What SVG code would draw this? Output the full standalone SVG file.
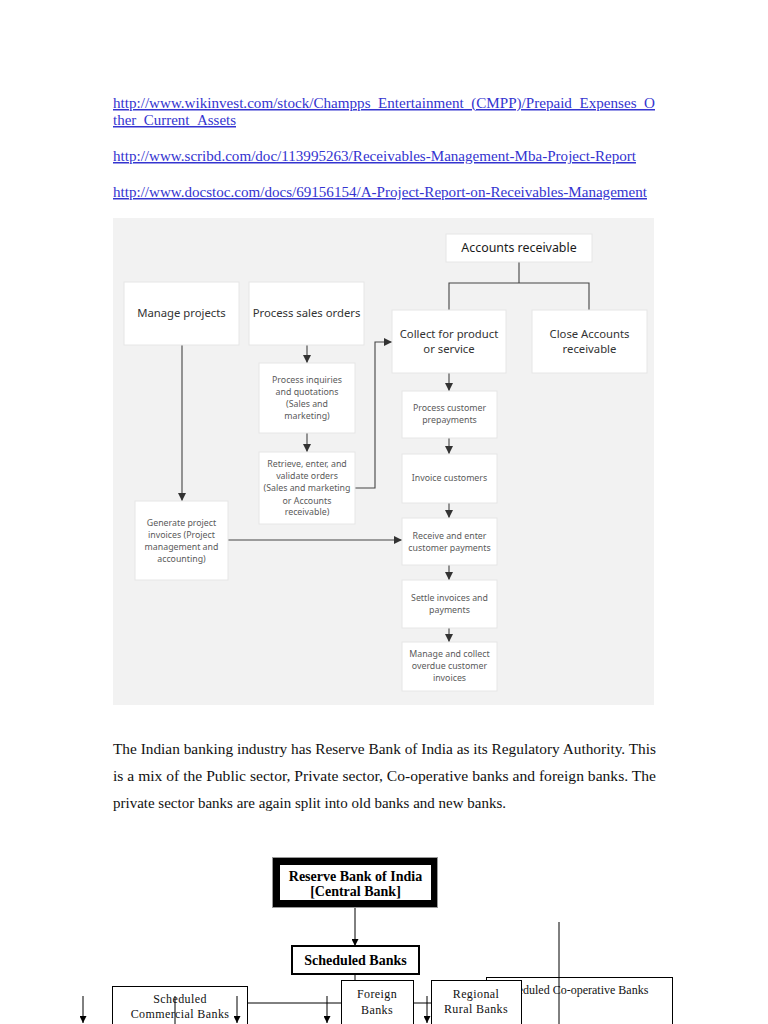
<svg xmlns="http://www.w3.org/2000/svg" width="768" height="1024" viewBox="0 0 768 1024">
<defs>
<style>
.link{font-family:"Liberation Serif",serif;font-size:15px;fill:#3434d0;text-decoration:underline}
.para{font-family:"Liberation Serif",serif;font-size:15px;fill:#111}
.big{font-family:"Noto Sans","Open Sans",sans-serif;font-size:11.3px;fill:#333;text-anchor:middle}
.sm{font-family:"Noto Sans","Open Sans",sans-serif;font-size:8.8px;fill:#5a5a5a;text-anchor:middle}
.box{fill:#fff;stroke:#e6e6e6;stroke-width:1}
.fl{fill:none;stroke:#444;stroke-width:1.1}
.bk{fill:#fff;stroke:#000;stroke-width:1}
.bt{font-family:"Liberation Serif",serif;font-size:12px;fill:#111;text-anchor:middle;letter-spacing:0.4px}
.bb{font-family:"Liberation Serif",serif;font-size:14px;font-weight:bold;fill:#000;text-anchor:middle}
.bl{fill:none;stroke:#000;stroke-width:1}
</style>
<marker id="fa" viewBox="0 0 10 10" refX="10" refY="5" markerUnits="userSpaceOnUse" markerWidth="8" markerHeight="8" orient="auto"><path d="M0,0 L10,5 L0,10 z" fill="#333"/></marker>
<marker id="ba" viewBox="0 0 10 10" refX="10" refY="5" markerUnits="userSpaceOnUse" markerWidth="9" markerHeight="7" orient="auto"><path d="M0,0 L10,5 L0,10 z" fill="#000"/></marker>
</defs>
<rect width="768" height="1024" fill="#fff"/>

<g id="links">
<text class="link" x="113" y="108" textLength="542" lengthAdjust="spacingAndGlyphs">http://www.wikinvest.com/stock/Champps_Entertainment_(CMPP)/Prepaid_Expenses_O</text>
<text class="link" x="113" y="125" textLength="123" lengthAdjust="spacingAndGlyphs">ther_Current_Assets</text>
<text class="link" x="113" y="161" textLength="523" lengthAdjust="spacingAndGlyphs">http://www.scribd.com/doc/113995263/Receivables-Management-Mba-Project-Report</text>
<text class="link" x="113" y="197" textLength="534" lengthAdjust="spacingAndGlyphs">http://www.docstoc.com/docs/69156154/A-Project-Report-on-Receivables-Management</text>
</g>

<rect x="113" y="218" width="541" height="487" fill="#f2f2f2"/>

<g id="flow-connectors">
<path class="fl" d="M307,345 V363" marker-end="url(#fa)"/>
<path class="fl" d="M307,433 V452" marker-end="url(#fa)"/>
<path class="fl" d="M182,345 V501" marker-end="url(#fa)"/>
<path class="fl" d="M228,540 H402" marker-end="url(#fa)"/>
<path class="fl" d="M355,488 H375 V342 H392" marker-end="url(#fa)"/>
<path class="fl" d="M519,262 V283 M449,310 V283 H589 V310"/>
<path class="fl" d="M449,373 V391" marker-end="url(#fa)"/>
<path class="fl" d="M449,438 V454" marker-end="url(#fa)"/>
<path class="fl" d="M449,503 V518" marker-end="url(#fa)"/>
<path class="fl" d="M449,565 V580" marker-end="url(#fa)"/>
<path class="fl" d="M449,628 V642" marker-end="url(#fa)"/>
</g>

<g id="manage-projects"><rect class="box" x="124" y="282" width="115" height="63"/><text class="big" x="181.5" y="317">Manage projects</text></g>
<g id="process-sales-orders"><rect class="box" x="249" y="282" width="115" height="63"/><text class="big" x="306.5" y="317">Process sales orders</text></g>
<g id="process-inquiries"><rect class="box" x="259" y="363" width="96" height="70"/>
<text class="sm" x="307" y="383">Process inquiries</text><text class="sm" x="307" y="395">and quotations</text><text class="sm" x="307" y="407">(Sales and</text><text class="sm" x="307" y="419">marketing)</text></g>
<g id="retrieve-orders"><rect class="box" x="259" y="452" width="96" height="72"/>
<text class="sm" x="307" y="467">Retrieve, enter, and</text><text class="sm" x="307" y="479">validate orders</text><text class="sm" x="307" y="491">(Sales and marketing</text><text class="sm" x="307" y="504">or Accounts</text><text class="sm" x="307" y="515">receivable)</text></g>
<g id="generate-invoices"><rect class="box" x="135" y="501" width="93" height="79"/>
<text class="sm" x="181.5" y="526">Generate project</text><text class="sm" x="181.5" y="538">invoices (Project</text><text class="sm" x="181.5" y="550">management and</text><text class="sm" x="181.5" y="562">accounting)</text></g>
<g id="accounts-receivable"><rect class="box" x="446" y="234" width="146" height="28"/><text class="big" x="519" y="252" style="fill:#1a1a1a;font-size:12.4px">Accounts receivable</text></g>
<g id="collect"><rect class="box" x="392" y="310" width="114" height="63"/><text class="big" x="449" y="338">Collect for product</text><text class="big" x="449" y="353">or service</text></g>
<g id="close-ar"><rect class="box" x="532" y="310" width="115" height="63"/><text class="big" x="589.5" y="338">Close Accounts</text><text class="big" x="589.5" y="353">receivable</text></g>
<g id="prepayments"><rect class="box" x="402" y="391" width="95" height="47"/><text class="sm" x="449.5" y="411">Process customer</text><text class="sm" x="449.5" y="423">prepayments</text></g>
<g id="invoice-customers"><rect class="box" x="402" y="454" width="95" height="49"/><text class="sm" x="449.5" y="481">Invoice customers</text></g>
<g id="receive-payments"><rect class="box" x="402" y="518" width="95" height="47"/><text class="sm" x="449.5" y="539">Receive and enter</text><text class="sm" x="449.5" y="551">customer payments</text></g>
<g id="settle"><rect class="box" x="402" y="580" width="95" height="48"/><text class="sm" x="449.5" y="601">Settle invoices and</text><text class="sm" x="449.5" y="613">payments</text></g>
<g id="overdue"><rect class="box" x="402" y="642" width="95" height="49"/><text class="sm" x="449.5" y="657">Manage and collect</text><text class="sm" x="449.5" y="669">overdue customer</text><text class="sm" x="449.5" y="681">invoices</text></g>

<g id="paragraph">
<text class="para" x="113" y="754" textLength="543" lengthAdjust="spacingAndGlyphs">The Indian banking industry has Reserve Bank of India as its Regulatory Authority. This</text>
<text class="para" x="113" y="781" textLength="543" lengthAdjust="spacingAndGlyphs">is a mix of the Public sector, Private sector, Co-operative banks and foreign banks. The</text>
<text class="para" x="113" y="808" textLength="393" lengthAdjust="spacingAndGlyphs">private sector banks are again split into old banks and new banks.</text>
</g>

<g id="bank-connectors">
<path class="bl" d="M355,907 V946" marker-end="url(#ba)"/>
<path class="bl" d="M355,974 V980"/>
<path class="bl" d="M247,1003 H341 M413,1003 H431"/>
<path class="bl" d="M83,996 V1023" marker-end="url(#ba)"/>
<path class="bl" d="M327,996 V1023" marker-end="url(#ba)"/>
<path class="bl" d="M427,996 V1023" marker-end="url(#ba)"/>
</g>

<g id="rbi"><rect x="272.5" y="857.5" width="165" height="50" fill="#000" stroke="#999" stroke-width="1"/><rect x="280" y="865" width="151" height="35" fill="#fff"/>
<text class="bb" x="355.5" y="881">Reserve Bank of India</text><text class="bb" x="355.5" y="896">[Central Bank]</text></g>
<g id="scheduled-banks"><rect x="292" y="946" width="127" height="28" fill="#fff" stroke="#000" stroke-width="2"/><text class="bb" x="355.5" y="965">Scheduled Banks</text></g>
<g id="scheduled-coop"><rect class="bk" x="486.5" y="977.5" width="186" height="60"/><text class="bt" x="574" y="994" style="letter-spacing:0">Scheduled Co-operative Banks</text></g>
<g id="scheduled-commercial"><rect class="bk" x="112.5" y="986.5" width="135" height="50"/><text class="bt" x="180" y="1003">Scheduled</text><text class="bt" x="180" y="1018">Commercial Banks</text>
<path class="bl" d="M175,996 V1024"/><path class="bl" d="M237,996 V1023" marker-end="url(#ba)"/></g>
<g id="foreign-banks"><rect class="bk" x="341.5" y="980.5" width="72" height="50"/><text class="bt" x="377" y="998">Foreign</text><text class="bt" x="377" y="1014">Banks</text></g>
<g id="regional-rural"><rect class="bk" x="431.5" y="980.5" width="90" height="50"/><text class="bt" x="476" y="998">Regional</text><text class="bt" x="476" y="1013">Rural Banks</text></g>
<path class="bl" d="M559,922 V1024"/>
</svg>
